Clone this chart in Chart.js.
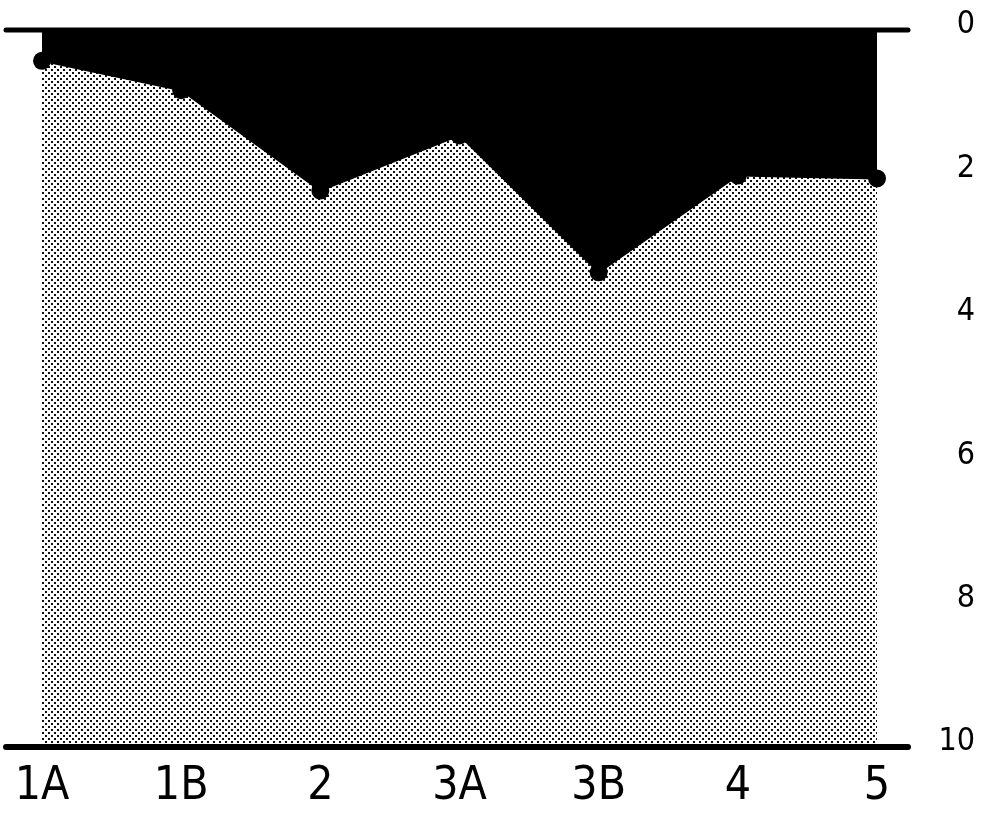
<!DOCTYPE html>
<html>
<head>
<meta charset="utf-8">
<script src="https://cdn.jsdelivr.net/npm/chart.js@4/dist/chart.umd.min.js"></script>
<style>
  html, body { margin: 0; padding: 0; background: #fff; }
  #wrap { width: 990px; height: 814px; position: relative; }
</style>
</head>
<body>
<div id="wrap"><canvas id="c" width="990" height="814"></canvas></div>
<script>
const categories = ['1A', '1B', '2', '3A', '3B', '4', '5'];
const depthValues = [0.43, 0.84, 2.24, 1.47, 3.38, 2.03, 2.07];
const yTicks = [0, 2, 4, 6, 8, 10];

// stipple pattern
const tile = document.createElement('canvas');
tile.width = 6; tile.height = 6;
const tctx = tile.getContext('2d');
tctx.fillStyle = '#ffffff';
tctx.fillRect(0, 0, 6, 6);
tctx.fillStyle = '#111111';
tctx.fillRect(0, 0, 2, 2);
tctx.fillRect(3, 3, 2, 2);
const stipple = tctx.createPattern(tile, 'repeat');

const frameLines = {
  id: 'frameLines',
  afterDatasetsDraw(chart) {
    const ctx = chart.ctx;
    const y = chart.scales.y;
    ctx.save();
    ctx.strokeStyle = '#000';
    ctx.lineCap = 'round';
    ctx.lineWidth = 5;
    ctx.beginPath();
    ctx.moveTo(6, y.getPixelForValue(0));
    ctx.lineTo(908, y.getPixelForValue(0));
    ctx.stroke();
    ctx.lineWidth = 6;
    ctx.beginPath();
    ctx.moveTo(6, y.getPixelForValue(10));
    ctx.lineTo(908, y.getPixelForValue(10));
    ctx.stroke();
    ctx.restore();
  }
};

new Chart(document.getElementById('c'), {
  type: 'line',
  data: {
    labels: categories,
    datasets: [
      {
        data: depthValues,
        fill: { value: 0 },
        backgroundColor: '#000',
        borderColor: '#000',
        borderWidth: 2,
        pointRadius: 9,
        pointBackgroundColor: '#000',
        pointBorderWidth: 0,
        tension: 0,
        order: 0
      },
      {
        data: depthValues,
        fill: { value: 10 },
        backgroundColor: stipple,
        borderWidth: 0,
        pointRadius: 0,
        tension: 0,
        order: 1
      }
    ]
  },
  options: {
    responsive: false,
    animation: false,
    layout: { padding: { left: 42, right: 15, top: 30, bottom: 0 } },
    plugins: { legend: { display: false }, tooltip: { enabled: false } },
    scales: {
      x: {
        type: 'category',
        offset: false,
        grid: { display: false, drawTicks: false },
        border: { display: false },
        ticks: {
          autoSkip: false, maxRotation: 0, padding: 12,
          color: '#000',
          font: { family: 'DejaVu Sans Condensed', size: 46 }
        },
        afterFit(s) { s.height = 67; }
      },
      y: {
        position: 'right',
        reverse: true,
        min: 0, max: 10,
        afterBuildTicks(s) { s.ticks = yTicks.map(v => ({ value: v })); },
        grid: { display: false, drawTicks: false },
        border: { display: false },
        ticks: {
          crossAlign: 'far',
          labelOffset: -5,
          color: '#000',
          font: { family: 'DejaVu Sans Condensed', size: 32 }
        },
        afterFit(s) { s.width = 98; }
      }
    }
  },
  plugins: [frameLines]
});
</script>
</body>
</html>
